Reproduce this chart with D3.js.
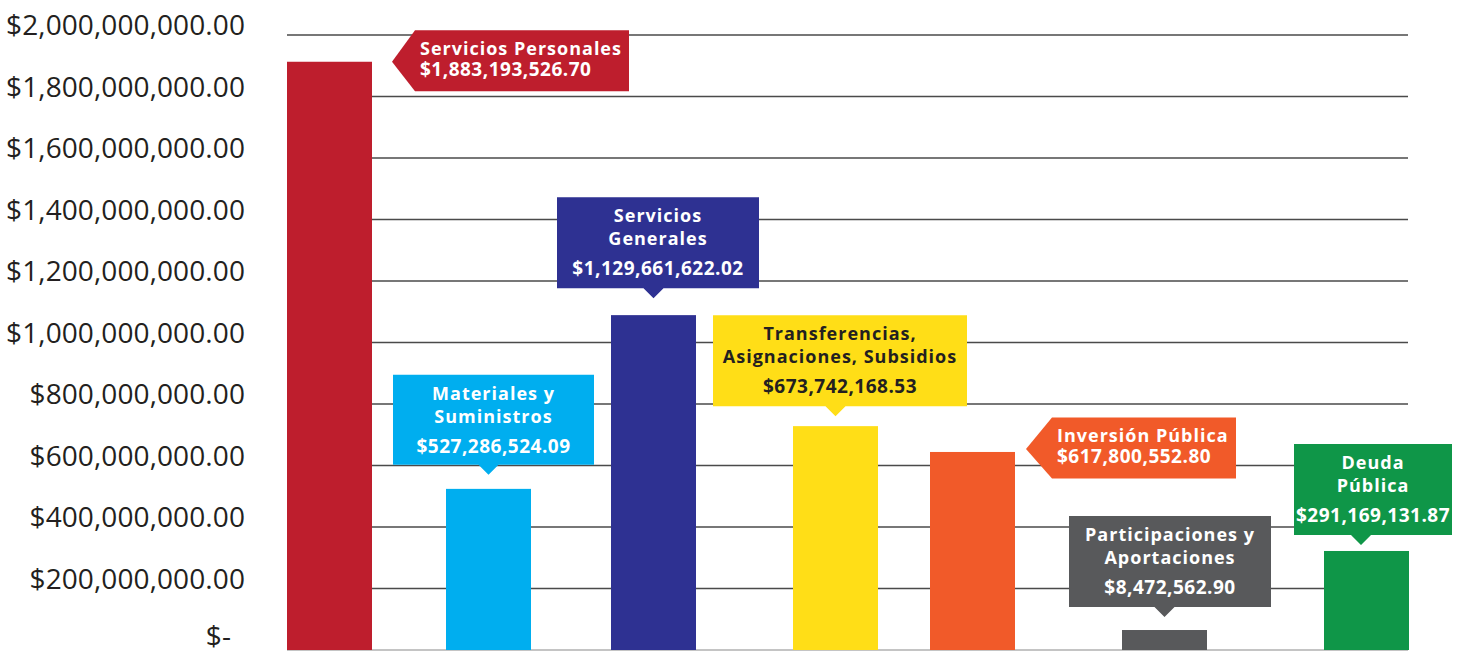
<!DOCTYPE html>
<html><head><meta charset="utf-8">
<script src="https://cdn.jsdelivr.net/npm/d3@7"></script>
<style>body{margin:0;background:#fff} svg{display:block}</style>
</head><body><svg id="chart" width="1458" height="654"></svg>
<script>
// ---------- data ----------
const categories = ["Servicios Personales", "Materiales y Suministros", "Servicios Generales",
  "Transferencias, Asignaciones, Subsidios", "Inversión Pública", "Participaciones y Aportaciones", "Deuda Pública"];
const labelLines = [["Servicios Personales"], ["Materiales y", "Suministros"], ["Servicios", "Generales"],
  ["Transferencias,", "Asignaciones, Subsidios"], ["Inversión Pública"], ["Participaciones y", "Aportaciones"], ["Deuda", "Pública"]];
// printed amounts
const labelValues = [1883193526.70, 527286524.09, 1129661622.02, 673742168.53, 617800552.80, 8472562.90, 291169131.87];
// bar heights as drawn in the picture
const barValues = [1913e6, 524e6, 1089e6, 728e6, 644e6, 65e6, 322e6];
const tickValues = [0, 2e8, 4e8, 6e8, 8e8, 1e9, 1.2e9, 1.4e9, 1.6e9, 1.8e9, 2e9];

// ---------- style / layout ----------
const colors = ["#be1e2d", "#00aeef", "#2e3192", "#ffde17", "#f15a29", "#58595b", "#0f9648"];
const textColors = ["#fff", "#fff", "#fff", "#231f20", "#fff", "#fff", "#fff"];
const callouts = [
  {type: "left", gap: 20, notch: 23, w: 237, h: 61, dy: 0},
  {type: "down", gap: 14, dx: 5, tdx: 0, w: 201, h: 90},
  {type: "down", gap: 17, dx: 4.5, tdx: 0, w: 202, h: 91},
  {type: "down", gap: 10, dx: 4.5, tdx: 0, w: 254, h: 91},
  {type: "left", gap: 11, notch: 26, w: 210, h: 61, dy: -3},
  {type: "down", gap: 13, dx: 5.5, tdx: 0, w: 202, h: 91},
  {type: "down", gap: 6, dx: 6.5, tdx: -5.5, w: 158, h: 91}
];
const barW = 85;

const svg = d3.select("#chart");
const x = d3.scaleOrdinal().domain(categories)
  .range([329.5, 488.5, 653.5, 835.5, 972.5, 1164.5, 1366.5]);
const y = d3.scaleLinear().domain([0, 2e9]).range([650, 35]);
const gridX0 = 287, gridX1 = 1408;

// gridlines
svg.append("g").selectAll("line").data(tickValues.filter(d => d > 0)).join("line")
  .attr("x1", gridX0).attr("x2", gridX1)
  .attr("y1", d => y(d)).attr("y2", d => y(d))
  .attr("stroke", "#4a4a4a").attr("stroke-width", 1.3);
svg.append("line").attr("x1", gridX0).attr("x2", gridX1)
  .attr("y1", y(0)).attr("y2", y(0)).attr("stroke", "#c4c4c4").attr("stroke-width", 2);

// y axis labels
const fmtTick = d3.format("$,.2f");
svg.append("g").selectAll("text").data(tickValues).join("text")
  .attr("x", d => d === 0 ? 231 : 245)
  .attr("y", d => d === 0 ? y(d) - 4 : y(d))
  .attr("text-anchor", "end")
  .attr("font-family", "'Open Sans', sans-serif")
  .attr("font-size", 28).attr("letter-spacing", 0.1)
  .attr("fill", "#231f20")
  .text(d => d === 0 ? "$-" : fmtTick(d));

// bars
svg.append("g").selectAll("rect").data(categories).join("rect")
  .attr("x", d => x(d) - barW / 2)
  .attr("width", barW)
  .attr("y", (d, i) => y(barValues[i]))
  .attr("height", (d, i) => y(0) - y(barValues[i]))
  .attr("fill", (d, i) => colors[i]);

// callouts
const fmtVal = d3.format("$,.2f");
categories.forEach((c, i) => {
  const L = callouts[i];
  const g = svg.append("g");
  const top = y(barValues[i]);
  const cx = x(c);
  let pts, tx, anchor, baselines;
  if (L.type === "left") {
    const tipX = cx + barW / 2 + L.gap, tipY = top + L.dy;
    const left = tipX + L.notch, right = tipX + L.w;
    const bt = tipY - L.h / 2 - 1, bb = bt + L.h;
    pts = [[tipX, tipY], [left, bt], [right, bt], [right, bb], [left, bb]];
    tx = left + 5; anchor = "start";
    baselines = [bt + 25, bt + 46];
  } else {
    const tipX = cx + L.tdx, tipY = top - L.gap;
    const bb = tipY - 10, bt = bb - L.h;
    const bc = cx + L.dx;
    const left = bc - L.w / 2, right = bc + L.w / 2;
    pts = [[left, bt], [right, bt], [right, bb], [tipX + 10, bb], [tipX, tipY], [tipX - 10, bb], [left, bb]];
    tx = bc; anchor = "middle";
    baselines = [bt + 25, bt + 48, bt + 78];
  }
  g.append("path").attr("d", d3.line()(pts) + "Z").attr("fill", colors[i]);
  const lines = labelLines[i].concat([fmtVal(labelValues[i])]);
  lines.forEach((t, k) => {
    const isVal = k === lines.length - 1;
    g.append("text")
      .attr("x", tx).attr("y", baselines[k])
      .attr("text-anchor", anchor)
      .attr("font-family", "'Open Sans', sans-serif")
      .attr("font-weight", 700)
      .attr("font-size", isVal ? 19 : 18)
      .attr("letter-spacing", isVal ? 0.5 : 1)
      .attr("fill", textColors[i])
      .text(t);
  });
});
</script>
</body></html>
